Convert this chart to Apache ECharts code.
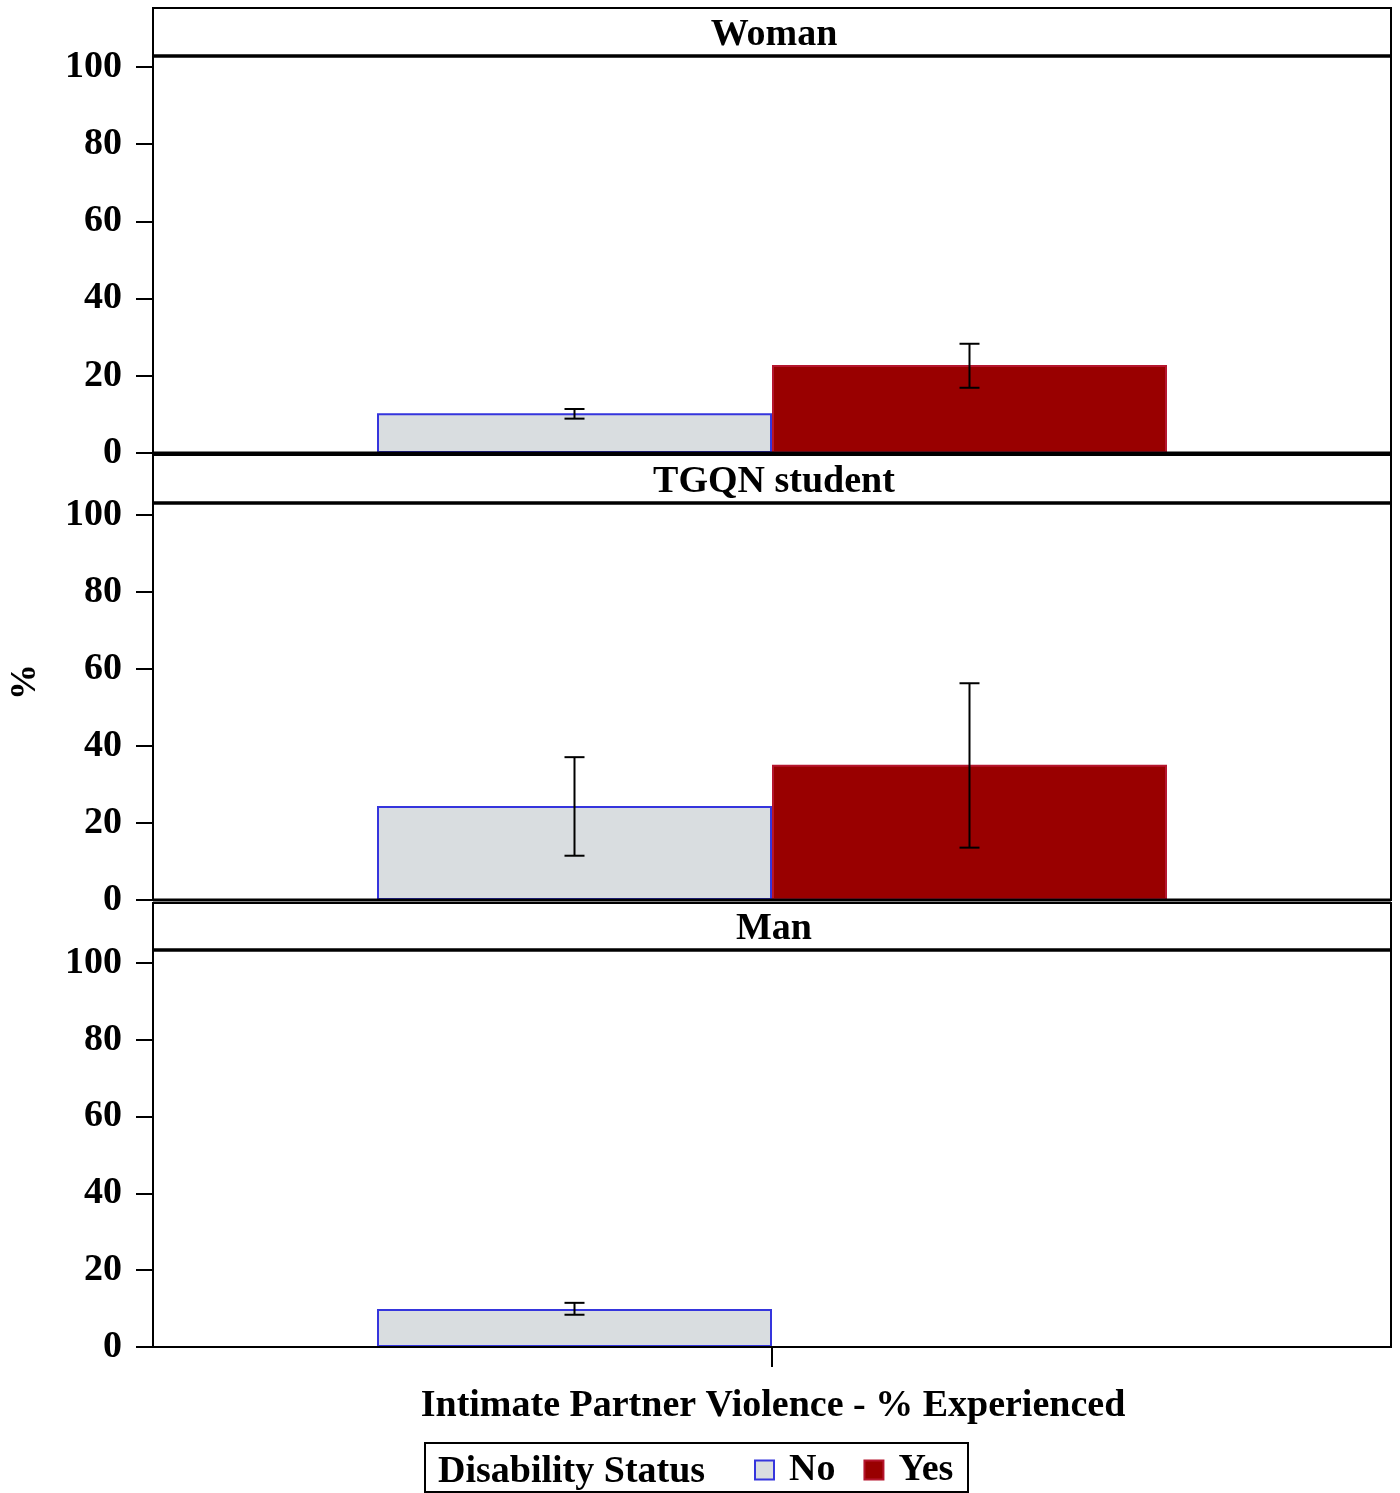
<!DOCTYPE html>
<html>
<head>
<meta charset="utf-8">
<script src="https://cdn.jsdelivr.net/npm/echarts@6/dist/echarts.min.js"></script>
<style>
html,body{margin:0;padding:0;background:#fff;}
#chart{width:1400px;height:1493px;}
</style>
</head>
<body>
<div id="chart"></div>
<script>
// ---- data ----
const panels = ['Woman', 'TGQN student', 'Man'];
const categories = ['Intimate Partner Violence - % Experienced'];
const seriesNames = ['No', 'Yes'];
const noValues  = [10.3, 24.4, 9.9];
const yesValues = [22.8, 35.1, null];
const noLower   = [8.9, 11.5, 8.4];
const noUpper   = [11.4, 37.1, 11.5];
const yesLower  = [16.9, 13.6, null];
const yesUpper  = [28.3, 56.3, null];
const yTicks = [0, 20, 40, 60, 80, 100];
const yAxisTitle = '%';
const xAxisTitle = 'Intimate Partner Violence - % Experienced';
const legendTitle = 'Disability Status';

// ---- layout ----
const FONT = '"Liberation Serif", "Times New Roman", serif';
const LEFT = 153, RIGHT = 1391;
const layout = [
  {hTop: 8,   pTop: 56,  gTop: 67,  pBot: 453},
  {hTop: 455, pTop: 503, gTop: 515, pBot: 900},
  {hTop: 903, pTop: 950, gTop: 963, pBot: 1347}
];
const BAR_W = 395;

const chart = echarts.init(document.getElementById('chart'), null, {renderer: 'canvas'});

const grids = [], xAxes = [], yAxes = [], series = [], graphics = [];

layout.forEach((L, i) => {
  grids.push({left: LEFT, right: 1400 - RIGHT, top: L.gTop, bottom: 1493 - L.pBot, containLabel: false});
  const isLast = i === layout.length - 1;
  xAxes.push({
    type: 'category', gridIndex: i, data: categories,
    show: true,
    axisLine: {show: isLast, lineStyle: {color: '#000', width: 2}},
    axisTick: {show: isLast, alignWithLabel: true, length: 20, lineStyle: {color: '#000', width: 2}},
    axisLabel: {show: false},
    splitLine: {show: false}
  });
  yAxes.push({
    type: 'value', gridIndex: i, min: yTicks[0], max: yTicks[yTicks.length - 1], interval: 20,
    axisLine: {show: true, lineStyle: {color: '#000', width: 2}},
    axisTick: {show: true, length: 17, lineStyle: {color: '#000', width: 2}},
    axisLabel: {show: true, margin: 31, color: '#000', fontFamily: FONT, fontWeight: 'bold', fontSize: 38, padding: [8, 0, 0, 0]},
    splitLine: {show: false}
  });
  series.push({
    name: seriesNames[0], type: 'bar', xAxisIndex: i, yAxisIndex: i,
    data: [noValues[i]], barWidth: BAR_W, barGap: '0%',
    itemStyle: {color: '#d9dde0', borderColor: '#3535dd', borderWidth: 2},
    emphasis: {disabled: true}
  });
  series.push({
    name: seriesNames[1], type: 'bar', xAxisIndex: i, yAxisIndex: i,
    data: [yesValues[i] == null ? '-' : yesValues[i]], barWidth: BAR_W, barGap: '0%',
    itemStyle: {color: '#990000', borderColor: '#b5162e', borderWidth: 2},
    emphasis: {disabled: true}
  });
  const errData = [];
  if (noLower[i] != null) errData.push([0, noLower[i], noUpper[i], -1]);
  if (yesLower[i] != null) errData.push([0, yesLower[i], yesUpper[i], 1]);
  series.push({
    type: 'custom', xAxisIndex: i, yAxisIndex: i, data: errData, z: 10,
    silent: true,
    renderItem: function (params, api) {
      const lo = api.coord([api.value(0), api.value(1)]);
      const hi = api.coord([api.value(0), api.value(2)]);
      const x = lo[0] + api.value(3) * BAR_W / 2;
      const cap = 10;
      const st = {stroke: '#000', lineWidth: 2};
      return {type: 'group', children: [
        {type: 'line', shape: {x1: x, y1: lo[1], x2: x, y2: hi[1]}, style: st},
        {type: 'line', shape: {x1: x - cap, y1: lo[1], x2: x + cap, y2: lo[1]}, style: st},
        {type: 'line', shape: {x1: x - cap, y1: hi[1], x2: x + cap, y2: hi[1]}, style: st}
      ]};
    }
  });
  // panel frames
  graphics.push({type: 'rect', z: 100, silent: true,
    shape: {x: LEFT, y: L.hTop, width: RIGHT - LEFT, height: L.pTop - L.hTop},
    style: {fill: 'none', stroke: '#000', lineWidth: 2}});
  graphics.push({type: 'rect', z: 100, silent: true,
    shape: {x: LEFT, y: L.pTop, width: RIGHT - LEFT, height: L.pBot - L.pTop},
    style: {fill: 'none', stroke: '#000', lineWidth: 2}});
  graphics.push({type: 'line', z: 101, silent: true,
    shape: {x1: LEFT, y1: L.pTop, x2: RIGHT, y2: L.pTop},
    style: {stroke: '#000', lineWidth: 3.5}});
  if (!isLast) {
    graphics.push({type: 'line', z: 101, silent: true,
      shape: {x1: LEFT, y1: L.pBot, x2: RIGHT, y2: L.pBot},
      style: {stroke: '#000', lineWidth: 3}});
  }
  graphics.push({type: 'text', z: 101, silent: true,
    x: (LEFT + RIGHT) / 2 + 2, y: (L.hTop + L.pTop) / 2 + 3,
    style: {text: panels[i], fill: '#000', font: 'bold 38px ' + FONT, textAlign: 'center', textVerticalAlign: 'middle'}});
});

// y axis title
graphics.push({type: 'text', silent: true, x: 26, y: 682, rotation: Math.PI / 2,
  style: {text: yAxisTitle, fill: '#000', font: 'bold 36px ' + FONT, textAlign: 'center', textVerticalAlign: 'middle'}});
// x axis title
graphics.push({type: 'text', silent: true, x: 773, y: 1406,
  style: {text: xAxisTitle, fill: '#000', font: 'bold 38px ' + FONT, textAlign: 'center', textVerticalAlign: 'middle'}});
// legend box and title
graphics.push({type: 'rect', silent: true,
  shape: {x: 425, y: 1443, width: 543, height: 49},
  style: {fill: 'none', stroke: '#000', lineWidth: 2}});
graphics.push({type: 'text', silent: true, x: 438, y: 1472,
  style: {text: legendTitle, fill: '#000', font: 'bold 38px ' + FONT, textAlign: 'left', textVerticalAlign: 'middle'}});

chart.setOption({
  animation: false,
  backgroundColor: '#fff',
  grid: grids,
  xAxis: xAxes,
  yAxis: yAxes,
  series: series,
  legend: {
    data: seriesNames,
    left: 749, top: 1446,
    icon: 'rect', itemWidth: 19, itemHeight: 19, itemGap: 28,
    selectedMode: false,
    textStyle: {color: '#000', fontFamily: FONT, fontWeight: 'bold', fontSize: 38, padding: [6, 0, 0, 10]}
  },
  graphic: graphics
});
</script>
</body>
</html>
